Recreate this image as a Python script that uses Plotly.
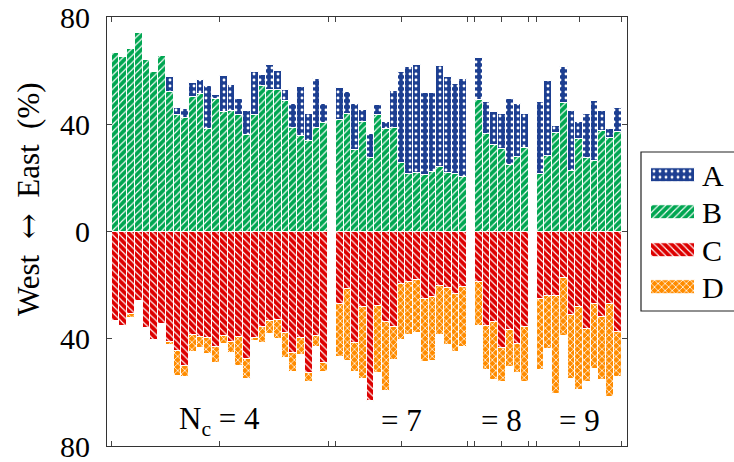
import plotly.graph_objects as go

group_sizes = [28, 17, 7, 11]
group_labels = ["N<sub>c</sub> = 4", "= 7", "= 8", "= 9"]

A = [0, 0, 0, 0, 0, 0, 0, 5.9, 2.6, 3.2, 5.3, 5.3, 15.9, 1.4, 13.2, 10.0, 6.2, 8.9, 16.0, 4.0, 9.1, 7.2, 4.1, 8.8, 18.4, 10.1, 18.3, 7.1,
     11.8, 7.9, 17.1, 4.4, 8.9, 3.9, 2.4, 13.7, 34.0, 40.1, 40.4, 30.8, 29.6, 37.7, 35.7, 33.7, 36.4,
     15.7, 12.1, 12.3, 13.2, 24.8, 19.5, 12.5,
     27.0, 28.1, 2.8, 13.2, 22.6, 6.4, 16.3, 22.6, 7.3, 3.6, 8.8]
B = [66.7, 64.9, 67.9, 74.0, 63.9, 59.6, 65.6, 51.9, 43.4, 42.5, 50.0, 51.3, 38.4, 49.6, 44.7, 44.8, 43.4, 36.1, 43.4, 54.4, 52.9, 52.8, 48.8, 38.6, 35.6, 33.8, 38.6, 40.3,
     41.6, 44.0, 30.5, 40.9, 27.5, 43.4, 38.3, 38.6, 25.5, 21.4, 21.8, 20.9, 22.2, 23.9, 21.8, 21.4, 20.5,
     49.0, 36.3, 32.4, 30.7, 24.7, 27.9, 31.2,
     21.4, 28.2, 36.6, 48.0, 22.4, 34.6, 27.5, 26.2, 37.5, 34.8, 37.1]
C = [33.5, 35.2, 30.8, 26.1, 36.1, 40.4, 34.6, 41.1, 44.4, 50.3, 38.6, 39.2, 39.6, 42.9, 38.8, 41.1, 39.2, 47.4, 39.6, 35.7, 33.2, 33.0, 37.8, 45.3, 39.9, 52.9, 38.8, 48.9,
     27.0, 21.5, 41.6, 28.0, 63.1, 27.7, 33.7, 35.6, 19.5, 18.9, 18.2, 25.0, 24.6, 20.3, 21.1, 23.2, 20.7,
     19.0, 35.3, 33.8, 43.3, 36.6, 41.9, 35.6,
     25.3, 24.0, 23.9, 17.5, 31.2, 28.1, 36.2, 27.0, 31.7, 27.1, 37.3]
D = [0, 0, 1.4, 0, 0, 0, 0, 1.2, 9.5, 4.0, 6.2, 4.1, 6.1, 6.1, 3.3, 4.2, 11.1, 7.6, 1.2, 6.0, 4.9, 7.1, 9.4, 7.2, 6.2, 3.2, 4.4, 3.6,
     19.8, 26.7, 10.8, 26.9, 0.5, 25.1, 25.7, 12.3, 21.1, 19.7, 19.7, 23.5, 23.7, 18.3, 21.4, 21.6, 22.5,
     16.3, 16.4, 21.7, 12.7, 14.1, 10.7, 20.7,
     26.4, 19.9, 36.7, 21.3, 23.7, 31.0, 20.1, 24.3, 23.7, 34.7, 17.0]

y_tickvals = [-80, -40, 0, 40, 80]
y_ticktext = ["80", "40", "0", "40", "80"]
series_names = ["A", "B", "C", "D"]

# slot positions: one empty slot between groups
pos, starts, ends = [], [], []
s = 0
for n in group_sizes:
    starts.append(s - 0.5)
    ends.append(s + n - 0.5)
    pos += list(range(s, s + n))
    s += n + 1
centers = [(a + b) / 2 for a, b in zip(starts, ends)]
xticks = sorted(starts + ends + centers)

COL = {"A": "#1d3f91", "B": "#00a651", "C": "#dd0000", "D": "#ff8c00"}
PAT = {"A": ".", "B": "/", "C": "\\", "D": "x"}
SOL = {"A": 0.18, "B": 0.22, "C": 0.22, "D": 0.28}
SZ = {"A": 6, "B": 5, "C": 5, "D": 5}
FONT = "Liberation Serif"


def marker(k):
    return dict(color=COL[k], line=dict(color="white", width=1),
                pattern=dict(shape=PAT[k], fgcolor="white", bgcolor=COL[k],
                             size=SZ[k], solidity=SOL[k], fillmode="replace"))


fig = go.Figure()
fig.add_trace(go.Bar(x=pos, y=B, width=1, marker=marker("B"), name="B", showlegend=False))
fig.add_trace(go.Bar(x=pos, y=A, width=1, marker=marker("A"), name="A", showlegend=False))
fig.add_trace(go.Bar(x=pos, y=[-v for v in C], width=1, marker=marker("C"), name="C", showlegend=False))
fig.add_trace(go.Bar(x=pos, y=[-v for v in D], width=1, marker=marker("D"), name="D", showlegend=False))

W, H = 734, 462
L, R, T, Bm = 107, 0, 17, 462 - 446
pw = W - L - R
ph = H - T - Bm
xr = [-1.11, 66.19]
x_dom_end = (627 - 107) / pw


def px(xwin):
    return (xwin - L) / pw


def py(ywin):
    return (H - Bm - ywin) / ph


# manual legend with wide patterned swatches
for i, k in enumerate(series_names):
    fig.add_trace(go.Bar(x=[1], y=[3 - i], orientation="h", width=0.38, marker=marker(k),
                         xaxis="x2", yaxis="y2", showlegend=False, hoverinfo="skip"))
    fig.add_annotation(x=px(700), xref="paper", xanchor="left", y=3 - i, yref="y2",
                       text=k, showarrow=False, font=dict(family=FONT, size=30, color="black"))

fig.add_shape(type="rect", xref="paper", yref="paper", x0=px(641), x1=1.05, y0=py(311), y1=py(152),
              line=dict(color="#222", width=1.2), fillcolor="rgba(0,0,0,0)")

for c, lab in zip(centers, group_labels):
    fig.add_annotation(x=c, y=-70.5, xref="x", yref="y", xanchor="center", text=lab, showarrow=False,
                       font=dict(family=FONT, size=31, color="black"))

fig.add_annotation(x=px(28), y=py(199), xref="paper", yref="paper", xanchor="center", yanchor="middle",
                   text="West  <span style='font-family:DejaVu Serif'>↔</span>  East  (%)",
                   textangle=-90, showarrow=False, font=dict(family=FONT, size=31, color="black"))

fig.update_layout(
    width=W, height=H, margin=dict(l=L, r=R, t=T, b=Bm, autoexpand=False),
    paper_bgcolor="white", plot_bgcolor="white",
    barmode="relative", bargap=0,
    xaxis=dict(domain=[0, x_dom_end], range=xr, tickvals=xticks, ticktext=[""] * len(xticks),
               ticks="inside", ticklen=5, tickcolor="#444", showline=True, linecolor="#333",
               linewidth=1.2, mirror="allticks", showgrid=False, zeroline=False),
    yaxis=dict(range=[-80, 80], tickvals=y_tickvals, ticktext=y_ticktext, ticks="inside",
               ticklen=5, tickcolor="#444", showline=True, linecolor="#333", linewidth=1.2,
               mirror="allticks", showgrid=False, zeroline=False, ticklabelstandoff=10,
               ticklabeloverflow="allow",
               tickfont=dict(family=FONT, size=30, color="black")),
    xaxis2=dict(domain=[px(651), px(695)], range=[0, 1], visible=False, anchor="y2"),
    yaxis2=dict(domain=[py(306.25), py(156.25)], range=[-0.5, 3.5], visible=False, anchor="x2"),
)

fig.write_html("out.html", config={"displayModeBar": False},
               post_script="document.body.style.margin='0';document.body.style.overflow='hidden';")
